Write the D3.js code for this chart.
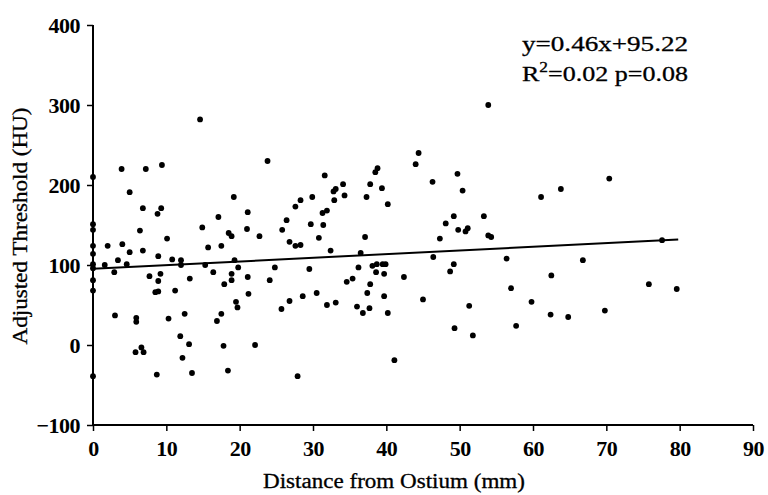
<!DOCTYPE html>
<html>
<head>
<meta charset="utf-8">
<script src="https://cdn.jsdelivr.net/npm/d3@7"></script>
<style>
  body { margin: 0; background: #fff; }
  text { font-family: "Liberation Serif", "Times New Roman", serif; fill: #000; }
</style>
</head>
<body>
<div id="chart"></div>
<script>
// distance from ostium (mm)
var distance = [
  0, 0, 0, 0, 0, 0, 0, 0, 0, 0,
  1.6, 2.0, 2.9, 3.0, 3.4, 3.9, 4.0, 4.6, 5.0, 5.0,
  5.8, 5.9, 5.9, 6.4, 6.6, 6.8, 6.8, 6.9, 7.2, 7.7,
  8.5, 8.7, 8.8, 8.9, 8.9, 8.9, 9.2, 9.3, 9.4, 10.1,
  10.3, 10.8, 11.2, 11.9, 12.0, 12.0, 12.2, 12.5, 13.1, 13.2,
  13.5, 14.6, 14.9, 15.3, 15.7, 16.4, 16.9, 17.1, 17.5, 17.5,
  17.8, 17.9, 18.4, 18.5, 18.9, 18.9, 18.9, 19.2, 19.3, 19.5,
  19.7, 19.8, 21.0, 21.1, 21.1, 21.2, 22.1, 22.7, 23.8, 24.1,
  24.8, 25.7, 25.8, 26.4, 26.8, 26.8, 27.6, 27.6, 27.9, 28.3,
  28.3, 28.6, 29.5, 29.7, 29.9, 30.5, 30.8, 31.3, 31.4, 31.6,
  31.9, 31.9, 32.4, 32.8, 32.9, 33.1, 33.1, 34.1, 34.3, 34.6,
  35.4, 36.0, 36.2, 36.5, 36.8, 37.1, 37.3, 37.4, 37.7, 37.8,
  37.8, 38.1, 38.5, 38.6, 38.7, 38.8, 39.4, 39.5, 39.7, 39.7,
  39.9, 40.2, 40.2, 41.1, 42.4, 44.0, 44.4, 45.0, 46.3, 46.4,
  47.3, 48.1, 48.7, 49.2, 49.2, 49.3, 49.7, 49.8, 50.4, 50.8,
  51.1, 51.3, 51.8, 53.3, 53.9, 53.9, 54.3, 56.4, 57.0, 57.7,
  59.8, 61.1, 62.4, 62.5, 63.8, 64.8, 66.8, 69.8, 70.4, 75.8,
  77.6, 79.6
];

// adjusted threshold (HU)
var threshold = [
  210, 151, 144, 124, 114, 101, 96, 81, 68, -39,
  100, 124, 91, 37, 106, 220, 126, 101, 191, 116,
  -9, 34, 29, 143, -3, 171, 118, -9, 220, 86,
  66, -37, 164, 111, 80, 67, 89, 171, 225, 133,
  33, 107, 68, 11, 106, 100, -16, 39, 1, 83,
  -35, 282, 147, 100, 122, 91, 30, 160, 124, 39,
  -1, 76, -32, 140, 136, 89, 81, 185, 106, 54,
  47, 97, 145, 166, 85, 64, 0, 136, 230, 81,
  97, 45, 144, 156, 129, 55, 173, 124, -39, 181,
  125, 61, 95, 151, 185, 65, 134, 165, 150, 212,
  168, 50, 118, 192, 181, 195, 53, 201, 187, 79,
  83, 48, 97, 115, 40, 135, 185, 65, 46, 201,
  76, 99, 216, 91, 101, 221, 196, 101, 89, 61,
  101, 176, 40, -19, 85, 226, 240, 57, 204, 110,
  133, 152, 92, 161, 101, 21, 214, 144, 193, 142,
  146, 49, 12, 161, 300, 137, 135, 108, 71, 24,
  54, 185, 38, 87, 195, 35, 106, 43, 208, 76,
  131, 70
];

var xTicks = [0, 10, 20, 30, 40, 50, 60, 70, 80, 90];
var yTicks = [-100, 0, 100, 200, 300, 400];
var slope = 0.46, intercept = 95.22;
var fitRange = [0, 79.8];

var width = 768, height = 495;
var margin = {top: 25, right: 15, bottom: 70, left: 93};

var svg = d3.select("#chart").append("svg")
    .attr("width", width)
    .attr("height", height);

var x = d3.scaleLinear().domain([0, 90]).range([margin.left, width - margin.right]);
var y = d3.scaleLinear().domain([-100, 400]).range([height - margin.bottom, margin.top]);

// y axis
var yAxis = svg.append("g")
    .attr("transform", "translate(" + x(0) + ",0)")
    .call(d3.axisLeft(y).tickValues(yTicks).tickSize(6).tickPadding(7).tickFormat(d3.format("d")));
yAxis.select(".domain").attr("stroke-width", 2).attr("d", "M0," + y(-100) + "V" + y(400));
yAxis.selectAll(".tick line").attr("stroke-width", 1.5);
yAxis.selectAll("text")
    .style("font-size", "22px")
    .style("font-weight", "bold")
    .style("letter-spacing", "-0.5px");

// x axis
var xAxis = svg.append("g")
    .attr("transform", "translate(0," + y(-100) + ")")
    .call(d3.axisBottom(x).tickValues(xTicks).tickSize(6).tickPadding(9).tickFormat(d3.format("d")));
xAxis.select(".domain").attr("stroke-width", 2).attr("d", "M" + x(0) + ",0H" + x(90));
xAxis.selectAll(".tick line").attr("stroke-width", 1.5);
xAxis.selectAll("text")
    .style("font-size", "22px")
    .style("font-weight", "bold")
    .style("letter-spacing", "-0.5px");

// points
svg.append("g").selectAll("circle")
    .data(distance)
    .enter().append("circle")
    .attr("cx", function(d) { return x(d); })
    .attr("cy", function(d, i) { return y(threshold[i]); })
    .attr("r", 2.9)
    .attr("fill", "#000");

// trend line
svg.append("line")
    .attr("x1", x(fitRange[0]))
    .attr("y1", y(intercept + slope * fitRange[0]))
    .attr("x2", x(fitRange[1]))
    .attr("y2", y(intercept + slope * fitRange[1]))
    .attr("stroke", "#000")
    .attr("stroke-width", 2);

// axis titles
svg.append("text")
    .attr("x", 394)
    .attr("y", 488)
    .attr("text-anchor", "middle")
    .attr("textLength", 262)
    .attr("lengthAdjust", "spacingAndGlyphs")
    .style("font-size", "20px")
    .style("stroke", "#000")
    .style("stroke-width", 0.3)
    .text("Distance from Ostium (mm)");

svg.append("text")
    .attr("transform", "translate(27,226) rotate(-90)")
    .attr("text-anchor", "middle")
    .attr("textLength", 237)
    .attr("lengthAdjust", "spacingAndGlyphs")
    .style("font-size", "20px")
    .style("stroke", "#000")
    .style("stroke-width", 0.3)
    .text("Adjusted Threshold (HU)");

// equation
svg.append("text")
    .attr("x", 522)
    .attr("y", 51)
    .attr("textLength", 166)
    .attr("lengthAdjust", "spacingAndGlyphs")
    .style("font-size", "21px")
    .style("stroke", "#000")
    .style("stroke-width", 0.3)
    .text("y=0.46x+95.22");

var r2 = svg.append("text")
    .attr("x", 522)
    .attr("y", 81)
    .attr("textLength", 166)
    .attr("lengthAdjust", "spacingAndGlyphs")
    .style("font-size", "21px")
    .style("stroke", "#000")
    .style("stroke-width", 0.3);
r2.append("tspan").text("R");
r2.append("tspan").attr("dy", -9).style("font-size", "14px").text("2");
r2.append("tspan").attr("dy", 9).text("=0.02  p=0.08");
</script>
</body>
</html>
